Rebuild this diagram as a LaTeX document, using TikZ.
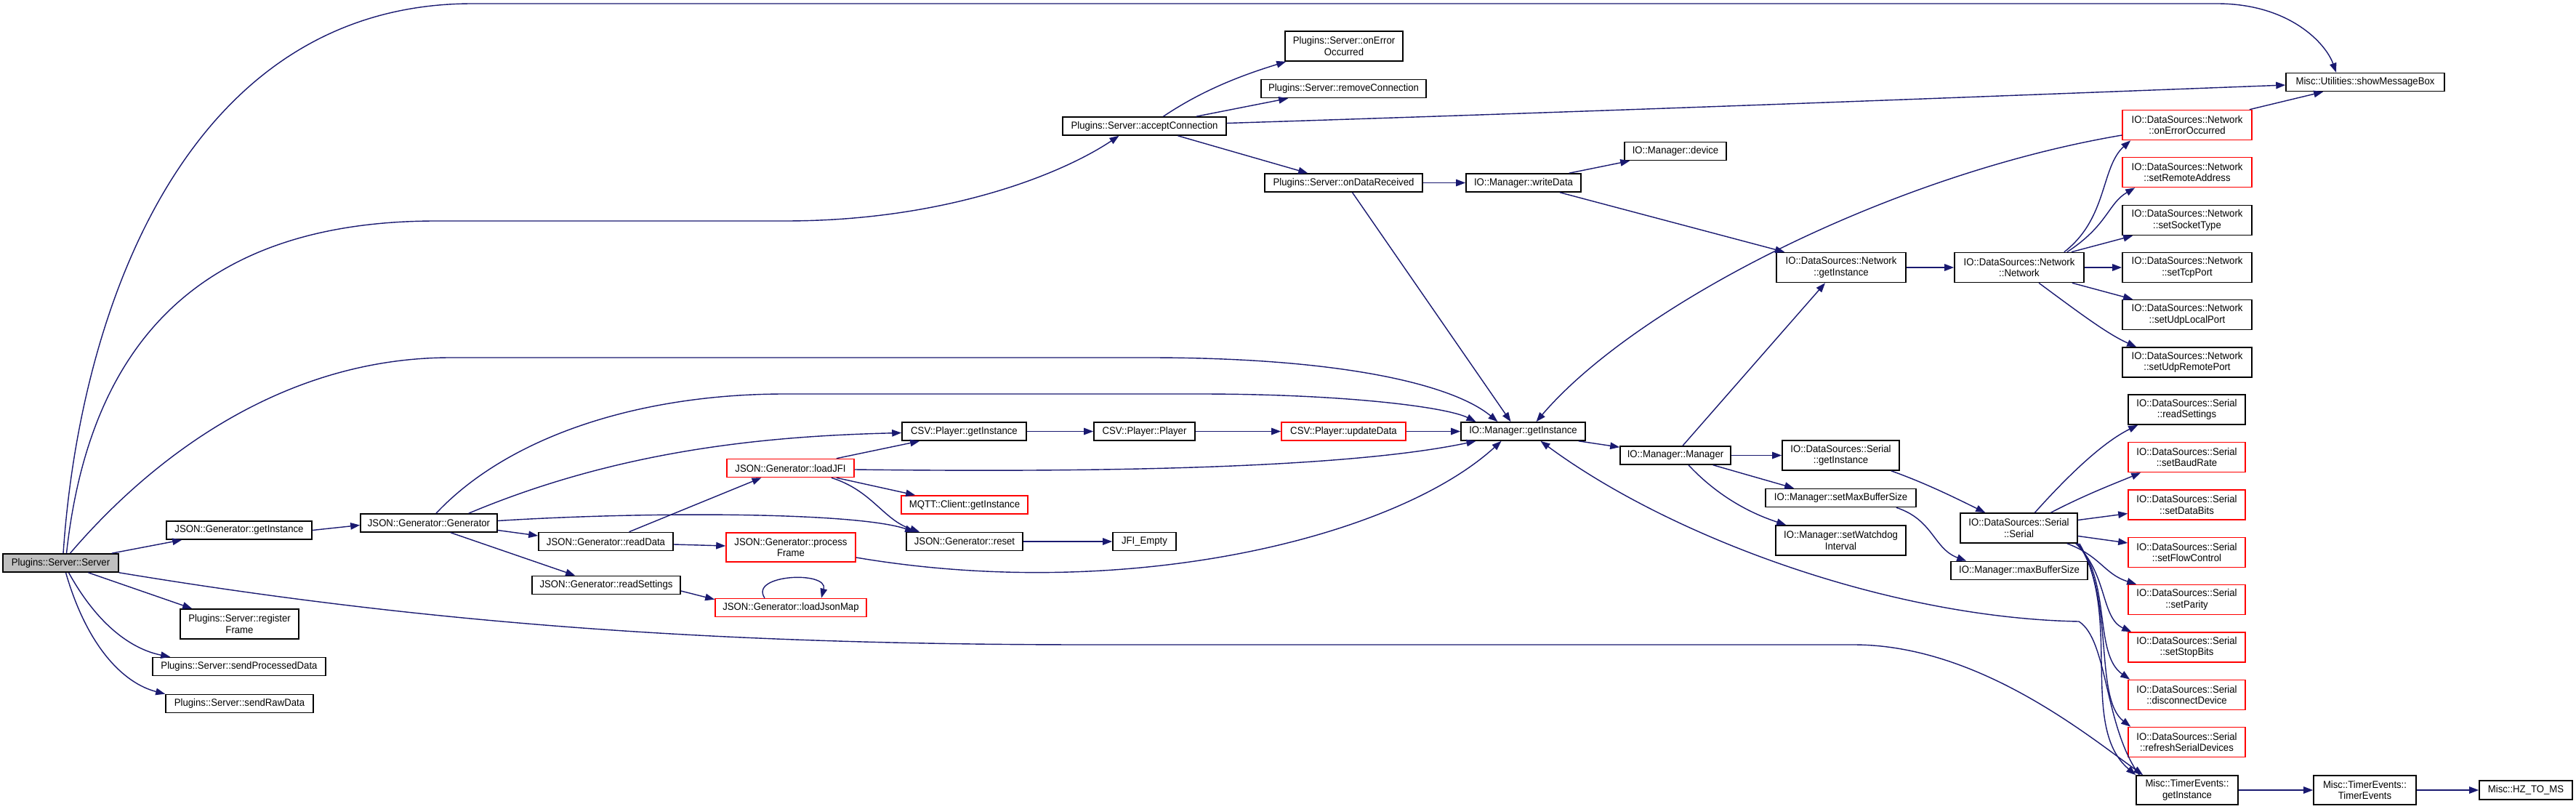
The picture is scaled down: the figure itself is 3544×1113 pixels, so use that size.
\documentclass[tikz,border=0pt]{standalone}
\usepackage{fontspec}
\setmainfont{Liberation Sans}
\newfontfamily\nodefont{Liberation Sans}[FakeStretch=0.94]
\usetikzlibrary{arrows.meta, calc}
\definecolor{edgeColor}{HTML}{191970}
\definecolor{rootFill}{HTML}{BFBFBF}
\definecolor{truncColor}{HTML}{FF0000}
\tikzset{
  fn/.style={draw=black, line width=1.6pt, fill=white, inner sep=0pt, align=center,
    minimum height=25pt, font=\nodefont\fontsize{14}{15.3}\selectfont},
  fntwo/.style={fn, minimum height=41pt},
  trunc/.style={draw=truncColor},
  call/.style={draw=edgeColor, line width=1.4pt, -{Triangle[length=13pt, width=9.5pt]}},
}

\begin{document}
\begin{tikzpicture}[x=1pt, y=-1pt]
    \useasboundingbox (0,0) rectangle (3544,1113);

    % left column
    \node[fn, fill=rootFill, minimum width=159] (srv) at (83.5,774.5) {Plugins::Server::Server};
    \node[fn, minimum width=200] (jgi) at (329,729.5) {JSON::Generator::getInstance};
    \node[fntwo, minimum width=163] (reg) at (329.5,858.5) {Plugins::Server::register\\Frame};
    \node[fn, minimum width=238] (spd) at (329,917) {Plugins::Server::sendProcessedData};
    \node[fn, minimum width=203] (srd) at (329.5,968) {Plugins::Server::sendRawData};
    \node[fn, minimum width=188] (jgg) at (590,719.5) {JSON::Generator::Generator};
    \node[fn, minimum width=185] (jrd) at (833.5,745) {JSON::Generator::readData};
    \node[fn, minimum width=204] (jst) at (834,805) {JSON::Generator::readSettings};
    \node[fn, trunc, minimum width=175] (jlj) at (1087.5,644) {JSON::Generator::loadJFI};
    \node[fntwo, trunc, minimum width=178, minimum height=40pt] (jpf) at (1088,753) {JSON::Generator::process\\Frame};
    \node[fn, trunc, minimum width=208] (jlm) at (1088,836) {JSON::Generator::loadJsonMap};
    \node[fn, minimum width=171] (csvgi) at (1326.5,593.5) {CSV::Player::getInstance};
    \node[fn, trunc, minimum width=174] (mqtt) at (1327,694.5) {MQTT::Client::getInstance};
    \node[fn, minimum width=160] (jrs) at (1327,745) {JSON::Generator::reset};
    \node[fn, minimum width=139] (csvp) at (1574.5,593.5) {CSV::Player::Player};
    \node[fn, minimum width=87] (jfi) at (1574.5,745) {JFI\_Empty};
    \node[fn, trunc, minimum width=171] (csvu) at (1848.5,593.5) {CSV::Player::updateData};

    % plugins server
    \node[fn, minimum width=225] (acc) at (1574.5,173.5) {Plugins::Server::acceptConnection};
    \node[fntwo, minimum width=162] (peo) at (1849,63.5) {Plugins::Server::onError\\Occurred};
    \node[fn, minimum width=227] (rmc) at (1848.5,122) {Plugins::Server::removeConnection};
    \node[fn, minimum width=217] (odr) at (1848.5,251.5) {Plugins::Server::onDataReceived};

    % io manager
    \node[fn, minimum width=158] (mwd) at (2096,251.5) {IO::Manager::writeData};
    \node[fn, minimum width=140] (mdv) at (2305,208) {IO::Manager::device};
    \node[fn, minimum width=171] (mgi) at (2095.5,593.5) {IO::Manager::getInstance};
    \node[fn, minimum width=152] (mmg) at (2305,626.5) {IO::Manager::Manager};
    \node[fntwo, minimum width=161] (sgi) at (2532.5,626.5) {IO::DataSources::Serial\\::getInstance};
    \node[fn, minimum width=207] (msb) at (2532.5,685) {IO::Manager::setMaxBufferSize};
    \node[fntwo, minimum width=179] (mwi) at (2532.5,743.5) {IO::Manager::setWatchdog\\Interval};
    \node[fntwo, minimum width=161] (sser) at (2777.5,726.5) {IO::DataSources::Serial\\::Serial};
    \node[fn, minimum width=188] (mmb) at (2778,785) {IO::Manager::maxBufferSize};

    % network
    \node[fntwo, minimum width=178] (ngi) at (2533,368) {IO::DataSources::Network\\::getInstance};
    \node[fntwo, minimum width=178] (nnw) at (2778,368) {IO::DataSources::Network\\::Network};
    \node[fntwo, trunc, minimum width=178] (noe) at (3009,172) {IO::DataSources::Network\\::onErrorOccurred};
    \node[fntwo, trunc, minimum width=178] (nra) at (3009,237) {IO::DataSources::Network\\::setRemoteAddress};
    \node[fntwo, minimum width=178] (nst) at (3009,303) {IO::DataSources::Network\\::setSocketType};
    \node[fntwo, minimum width=178] (ntp) at (3009,368) {IO::DataSources::Network\\::setTcpPort};
    \node[fntwo, minimum width=178] (nul) at (3009,433) {IO::DataSources::Network\\::setUdpLocalPort};
    \node[fntwo, minimum width=178] (nur) at (3009,498.5) {IO::DataSources::Network\\::setUdpRemotePort};
    \node[fn, minimum width=218] (smb) at (3254,113) {Misc::Utilities::showMessageBox};

    % serial
    \node[fntwo, minimum width=161] (srs) at (3008.5,563.5) {IO::DataSources::Serial\\::readSettings};
    \node[fntwo, trunc, minimum width=161] (sbr) at (3008.5,629) {IO::DataSources::Serial\\::setBaudRate};
    \node[fntwo, trunc, minimum width=161] (sdb) at (3008.5,694.5) {IO::DataSources::Serial\\::setDataBits};
    \node[fntwo, trunc, minimum width=161] (sfc) at (3008.5,760) {IO::DataSources::Serial\\::setFlowControl};
    \node[fntwo, trunc, minimum width=161] (spa) at (3008.5,825) {IO::DataSources::Serial\\::setParity};
    \node[fntwo, trunc, minimum width=161] (ssb) at (3008.5,890.5) {IO::DataSources::Serial\\::setStopBits};
    \node[fntwo, trunc, minimum width=161] (sdd) at (3008.5,956) {IO::DataSources::Serial\\::disconnectDevice};
    \node[fntwo, trunc, minimum width=161] (srf) at (3008.5,1021) {IO::DataSources::Serial\\::refreshSerialDevices};

    % timers
    \node[fntwo, minimum width=140, minimum height=40pt] (tgi) at (3009,1087) {Misc::TimerEvents::\\getInstance};
    \node[fntwo, minimum width=141, minimum height=40pt] (tte) at (3253.5,1087) {Misc::TimerEvents::\\TimerEvents};
    \node[fn, minimum width=128, minimum height=26pt] (hz) at (3475,1087) {Misc::HZ\_TO\_MS};

    % calls from Plugins::Server::Server
    \draw[call] ($(srv.north)+(3.5,0)$) .. controls (110,420) and (260,5) .. (650,5) -- (3050,5)
        .. controls (3150,5) and (3200,60) .. ($(smb.north)+(-40,0)$);
    \draw[call] ($(srv.north)+(8,0)$) .. controls (120,500) and (250,304) .. (600,304) -- (1080,304)
        .. controls (1300,304) and (1460,240) .. ($(acc.south)+(-35,0)$);
    \draw[call] ($(srv.north)+(13,0)$) .. controls (200,640) and (380,492) .. (620,492) -- (1580,492)
        .. controls (1850,492) and (2000,530) .. ($(mgi.north)+(-35,0)$);
    \draw[call] ($(srv.north east)+(-10,0)$) -- ($(jgi.south west)+(22,0)$);
    \draw[call] ($(srv.south)+(38,0)$) -- ($(reg.north west)+(17,0)$);
    \draw[call] ($(srv.south)+(11,0)$) .. controls (140,870) and (190,895) .. ($(spd.north west)+(25,0)$);
    \draw[call] ($(srv.south)+(7,0)$) .. controls (120,890) and (170,940) .. (srd.north west);
    \draw[call] (srv.south east) .. controls (600,860) and (1000,887) .. (1500,887) -- (2550,887)
        .. controls (2720,887) and (2870,1010) .. ($(tgi.north west)+(10,0)$);

    % json generator
    \draw[call] (jgi.east) -- ($(jgg.west)+(0,3)$);
    \draw[call] ($(jgg.north)+(10,0)$) .. controls (700,600) and (880,542) .. (1080,542) -- (1650,542)
        .. controls (1850,542) and (1990,560) .. ($(mgi.north)+(-65,0)$);
    \draw[call] ($(jgg.north east)+(-40,0)$) .. controls (850,620) and (1050,600) .. ($(csvgi.west)+(0,2)$);
    \draw[call] ($(jgg.east)+(0,10)$) -- ($(jrd.west)+(0,-8)$);
    \draw[call] ($(jgg.east)+(0,-3)$) .. controls (900,703) and (1180,705) .. ($(jrs.north west)+(12,0)$);
    \draw[call] ($(jgg.south)+(30,0)$) -- ($(jst.north west)+(60,0)$);
    \draw[call] ($(jrd.north)+(32,0)$) -- ($(jlj.south)+(-40,0)$);
    \draw[call] ($(jrd.east)+(0,4)$) -- ($(jpf.west)+(0,-2)$);
    \draw[call] ($(jlj.north east)+(-25,0)$) -- ($(csvgi.south west)+(25,0)$);
    \draw[call] ($(jlj.east)+(0,2)$) .. controls (1500,650) and (1850,645) .. ($(mgi.south)+(-65,0)$);
    \draw[call] ($(jlj.south east)+(-25,0)$) -- ($(mqtt.north west)+(20,0)$);
    \draw[call] ($(jlj.south east)+(-32,0)$) .. controls (1200,675) and (1215,715) .. ($(jrs.north west)+(19,0)$);
    \draw[call] ($(jpf.east)+(0,14)$) .. controls (1550,830) and (1920,740) .. ($(mgi.south)+(-30,0)$);
    \draw[call] ($(jst.east)+(0,8)$) -- ($(jlm.north west)+(0,2)$);
    \draw[call] ($(jlm.north)+(-36,0)$) .. controls (1030,790) and (1140,785) .. ($(jlm.north)+(42,0)$);
    \draw[call] (csvgi.east) -- (csvp.west);
    \draw[call] (csvp.east) -- (csvu.west);
    \draw[call] (csvu.east) -- (mgi.west);
    \draw[call] (jrs.east) -- (jfi.west);

    % plugins server
    \draw[call] ($(acc.north)+(26,0)$) .. controls (1660,120) and (1720,100) .. ($(peo.south west)+(2,0)$);
    \draw[call] ($(acc.north east)+(-42,0)$) -- ($(rmc.south west)+(38,0)$);
    \draw[call] ($(acc.east)+(0,-4)$) .. controls (2300,150) and (2800,130) .. ($(smb.west)+(0,4)$);
    \draw[call] ($(acc.south)+(46,0)$) -- ($(odr.north west)+(60,0)$);
    \draw[call] (odr.east) -- (mwd.west);
    \draw[call] ($(odr.south)+(12,0)$) -- ($(mgi.north)+(-17,0)$);
    \draw[call] ($(mwd.north east)+(-17,0)$) -- ($(mdv.south west)+(8,0)$);
    \draw[call] ($(mwd.south)+(50,0)$) -- ($(ngi.north west)+(12,0)$);

    % io manager
    \draw[call] ($(mgi.south east)+(-10,0)$) -- ($(mmg.north west)+(0,2)$);
    \draw[call] ($(mmg.north)+(10,0)$) -- ($(ngi.south)+(-22,0)$);
    \draw[call] (mmg.east) -- (sgi.west);
    \draw[call] ($(mmg.south east)+(-25,0)$) -- ($(msb.north west)+(40,0)$);
    \draw[call] ($(mmg.south)+(18,0)$) .. controls (2370,690) and (2420,710) .. ($(mwi.north west)+(15,0)$);
    \draw[call] ($(sgi.south east)+(-12,0)$) .. controls (2650,665) and (2690,685) .. ($(sser.north west)+(35,0)$);
    \draw[call] ($(msb.south east)+(-28,0)$) .. controls (2660,715) and (2660,755) .. ($(mmb.north west)+(22,0)$);

    % network
    \draw[call] (ngi.east) -- (nnw.west);
    \draw[call] ($(nnw.north east)+(-28,0)$) .. controls (2900,300) and (2890,230) .. ($(noe.south west)+(12,0)$);
    \draw[call] ($(nnw.north east)+(-24,0)$) .. controls (2900,310) and (2900,280) .. ($(nra.south west)+(18,0)$);
    \draw[call] ($(nnw.north east)+(-18,0)$) -- ($(nst.south west)+(15,0)$);
    \draw[call] (nnw.east) -- (ntp.west);
    \draw[call] ($(nnw.south east)+(-17,0)$) -- ($(nul.north west)+(15,0)$);
    \draw[call] ($(nnw.south)+(27,0)$) .. controls (2860,430) and (2900,460) .. ($(nur.north west)+(20,0)$);
    \draw[call] ($(noe.north east)+(-4,0)$) -- ($(smb.south west)+(52,0)$);
    \draw[call] ($(noe.west)+(0,14)$) .. controls (2600,240) and (2250,420) .. ($(mgi.north)+(18,0)$);

    % serial
    \draw[call] ($(sser.north)+(22,0)$) .. controls (2840,660) and (2890,610) .. ($(srs.south west)+(14,0)$);
    \draw[call] ($(sser.north)+(44,0)$) .. controls (2870,680) and (2910,665) .. ($(sbr.south west)+(18,0)$);
    \draw[call] ($(sser.east)+(0,-11)$) -- ($(sdb.west)+(0,12)$);
    \draw[call] ($(sser.east)+(0,11)$) -- ($(sfc.west)+(0,-13)$);
    \draw[call] ($(sser.south east)+(-15,0)$) .. controls (2890,765) and (2895,790) .. ($(spa.north west)+(12,0)$);
    \draw[call] ($(sser.south east)+(-3,0)$) .. controls (2900,790) and (2890,850) .. ($(ssb.north west)+(5,0)$);
    \draw[call] ($(sser.south east)+(-1,0)$) .. controls (2905,800) and (2880,900) .. ($(sdd.north west)+(3,0)$);
    \draw[call] (sser.south east) .. controls (2910,820) and (2880,960) .. ($(srf.north west)+(4,0)$);
    \draw[call] ($(sser.south east)+(2,0)$) .. controls (2920,850) and (2860,1000) .. (tgi.north west);

    % timers
    \draw[call] ($(tgi.north west)+(5,0)$) .. controls (2895,1000) and (2900,880) .. (2860,855)
        .. controls (2600,850) and (2300,740) .. ($(mgi.south)+(24,0)$);
    \draw[call] (tgi.east) -- (tte.west);
    \draw[call] (tte.east) -- (hz.west);
\end{tikzpicture}
\end{document}
